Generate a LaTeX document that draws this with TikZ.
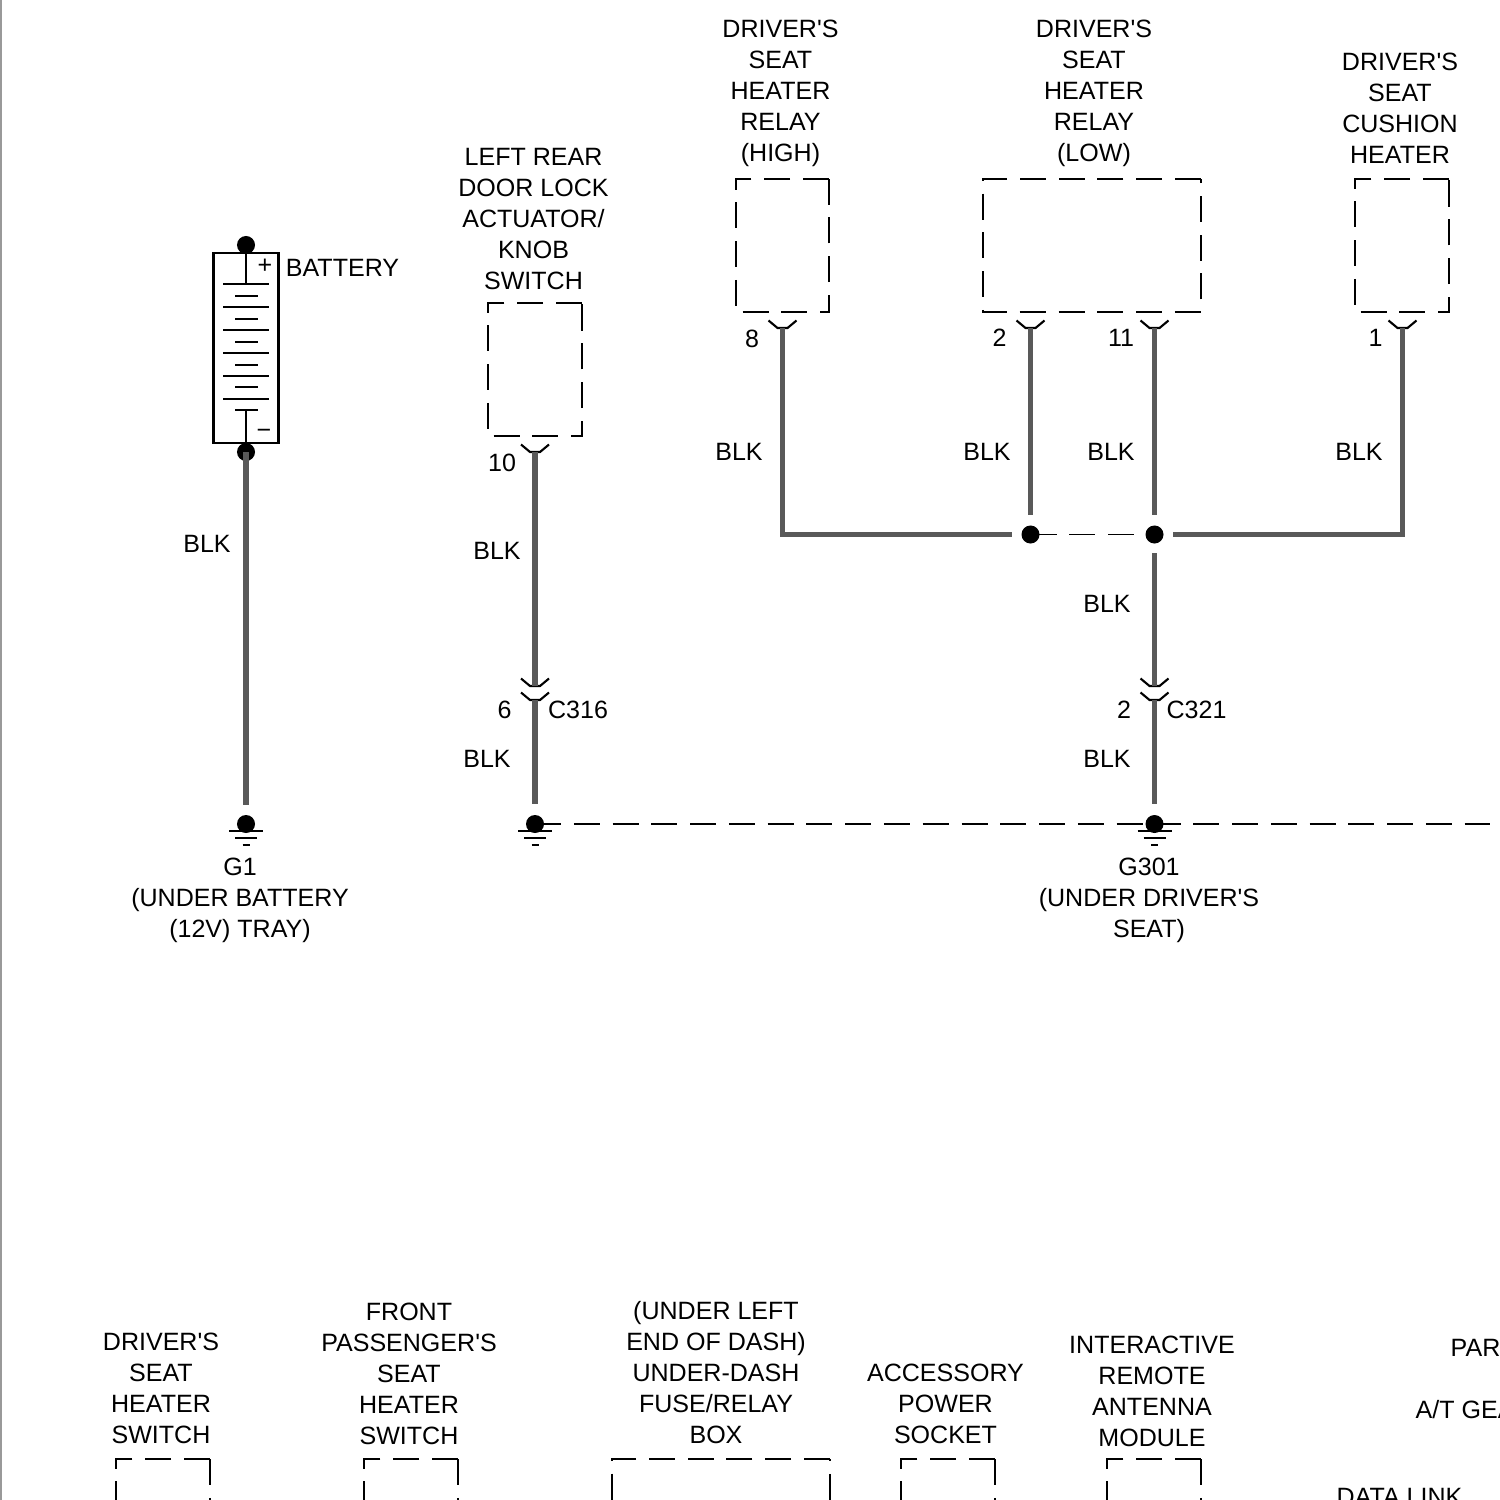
\documentclass[tikz,border=0pt]{standalone}
\usepackage{fontspec}
\usepackage{tikz}
\setmainfont{Liberation Sans}

\tikzset{
	lbl/.style={font=\fontsize{7.12}{8.82}\selectfont,inner sep=0pt,align=center},
	wire/.style={line width=1.5pt,color=black!65},
	thinline/.style={line width=0.6pt,color=black},
	boxline/.style={line width=0.78pt,color=black,dash pattern=on 0.26cm off 0.1275cm},
	linkline/.style={line width=0.3pt,color=black,dash pattern=on 0.26cm off 0.1275cm},
	dot/.style={circle,fill=black,inner sep=0pt,minimum size=0.18cm}
}

\begin{document}
\begin{tikzpicture}[x=0.01cm,y=-0.01cm]
	\useasboundingbox (0,0) rectangle (1500,1500);
	\clip (0,0) rectangle (1500,1500);
	\draw[line width=0.6pt,black!40] (0.8,0) -- (0.8,1500);

	% Battery
	\node[draw,thinline,minimum width=0.65cm,minimum height=1.9cm,inner sep=0pt] (bat) at (246,348) {};
	\node[dot] (battop) at (246,245) {};
	\node[dot] (batneg) at (246,452) {};
	\coordinate (platetop) at (246,284.3);
	\coordinate (platebot) at (246,410.3);
	\draw[thinline] (bat.north) -- (platetop);
	\draw[thinline] (platebot) -- (bat.south);
	\foreach \y in {284.3,307.3,330,353,375.7,398.7}
	\draw[thinline] (223,\y) -- (269,\y);
	\foreach \y in {296,319,341.7,364.7,387.3,410.3}
	\draw[thinline] (235,\y) -- (258,\y);
	\node[lbl] (batplus) at (265,266) {+};
	\node[lbl] (batminus) at (264,434) {−};
	\node[lbl] (battery) at (342.5,268) {BATTERY};

	% Component outlines
	\draw[boxline] (829,179) -| (736,312) -| (829,179);
	\draw[boxline] (1201,179) -| (983,312) -| (1201,179);
	\draw[boxline] (1449,179) -| (1355,312) -| (1449,179);
	\draw[boxline] (582,303) -| (488,436) -| (582,303);
	\foreach \xa/\xb in {116/210,364/458,612/830,901/995,1107/1201}
	\draw[boxline] (\xb,1459) -| (\xa,1520);
	\foreach \xb in {210,458,995,1201}
	\draw[boxline] (\xb,1459) -- (\xb,1520);
	\draw[boxline,dash phase=0.24cm] (830,1459) -- (830,1520);

	% Pins
	\foreach \x/\y/\name in {782.5/328/relayhigh,1030.5/328/relaylowa,1154.5/328/relaylowb,1402.5/328/cushion,535/452/lock,535/686/cupper,535/700/clower,1154.5/686/dupper,1154.5/700/dlower}{
		\coordinate (\name) at (\x,\y);
		\draw[thinline] (\x-14,\y-7.5) -- (\x-5,\y) -- (\x+5,\y) -- (\x+14,\y-7.5);
	}

	% Grounds
	\node[dot] (gone) at (246,824) {};
	\node[dot] (gtwo) at (535,824) {};
	\node[dot] (gthree) at (1154.5,824) {};
	\coordinate (gend) at (1490,824);
	\foreach \x in {246,535,1154.5}{
		\draw[thinline] (\x-17,831.3) -- (\x+17,831.3);
		\draw[thinline] (\x-11,838.3) -- (\x+11,838.3);
		\draw[line width=0.7pt] (\x-3.5,845) -- (\x+3.5,845);
	}
	\draw[linkline] (gtwo.center) -- (gthree.center);
	\draw[linkline] (gthree.center) -- (gend);

	% Wires
	\coordinate (goneup) at (246,805);
	\coordinate (gtwoup) at (535,804);
	\coordinate (gthreeup) at (1154.5,804);
	\node[dot] (splicea) at (1030.5,534.5) {};
	\node[dot] (spliceb) at (1154.5,534.5) {};
	\coordinate (gapleft) at (1012,534.5);
	\coordinate (gapright) at (1173,534.5);
	\coordinate (spliceaup) at (1030.5,515);
	\coordinate (splicebup) at (1154.5,515);
	\coordinate (splicebdn) at (1154.5,553);
	\draw[linkline] (splicea.center) -- (spliceb.center);
	\draw[wire] (batneg.center) -- (goneup);
	\draw[wire] (lock) -- (cupper);
	\draw[wire] (clower) -- (gtwoup);
	\draw[wire] (relayhigh) |- (gapleft);
	\draw[wire] (cushion) |- (gapright);
	\draw[wire] (relaylowa) -- (spliceaup);
	\draw[wire] (relaylowb) -- (splicebup);
	\draw[wire] (splicebdn) -- (dupper);
	\draw[wire] (dlower) -- (gthreeup);

	% Wire colours and pin numbers
	\foreach \x/\y in {207/544,497/551,487/759,739/452,987/452,1111/452,1359/452,1107/604,1107/759}
	\node[lbl] (blk\x-\y) at (\x,\y) {BLK};
	\foreach \x/\y/\t in {752/339/8,999.5/338/2,1121/338/11,1375.5/338/1,502/463/10,504.5/710/6,1124/710/2}
	\node[lbl] (num\x-\y) at (\x,\y) {\t};
	\node[lbl] (cthree) at (578,710) {C316};
	\node[lbl] (cfour) at (1196.5,710) {C321};

	% Top names
	\node[lbl] (namehigh) at (780.5,93) {DRIVER\textquotesingle S\\SEAT\\HEATER\\RELAY\\(HIGH)};
	\node[lbl] (namelow) at (1094,93) {DRIVER\textquotesingle S\\SEAT\\HEATER\\RELAY\\(LOW)};
	\node[lbl] (namecush) at (1400,108.5) {DRIVER\textquotesingle S\\SEAT\\CUSHION\\HEATER};
	\node[lbl] (namelock) at (533.5,219) {LEFT REAR\\DOOR LOCK\\ACTUATOR/\\KNOB\\SWITCH};
	\node[lbl] (nameg) at (240,900.5) {G1\\(UNDER BATTERY\\(12V) TRAY)};
	\node[lbl] (namegg) at (1149,900.5) {G301\\(UNDER DRIVER\textquotesingle S\\SEAT)};

	% Bottom names
	\node[lbl] (nameswa) at (161,1388.5) {DRIVER\textquotesingle S\\SEAT\\HEATER\\SWITCH};
	\node[lbl] (nameswb) at (409,1373.5) {FRONT\\PASSENGER\textquotesingle S\\SEAT\\HEATER\\SWITCH};
	\node[lbl] (namefuse) at (716,1372.5) {(UNDER LEFT\\END OF DASH)\\UNDER-DASH\\FUSE/RELAY\\BOX};
	\node[lbl] (namesock) at (945.5,1404) {ACCESSORY\\POWER\\SOCKET};
	\node[lbl] (nameant) at (1152,1391.5) {INTERACTIVE\\REMOTE\\ANTENNA\\MODULE};
	\node[lbl,anchor=west] (namepar) at (1450,1348) {PAR};
	\node[lbl,anchor=west] (namegea) at (1415,1410) {A/T GEA};
	\node[lbl,anchor=west] (namedata) at (1336,1497) {DATA LINK};
\end{tikzpicture}
\end{document}
